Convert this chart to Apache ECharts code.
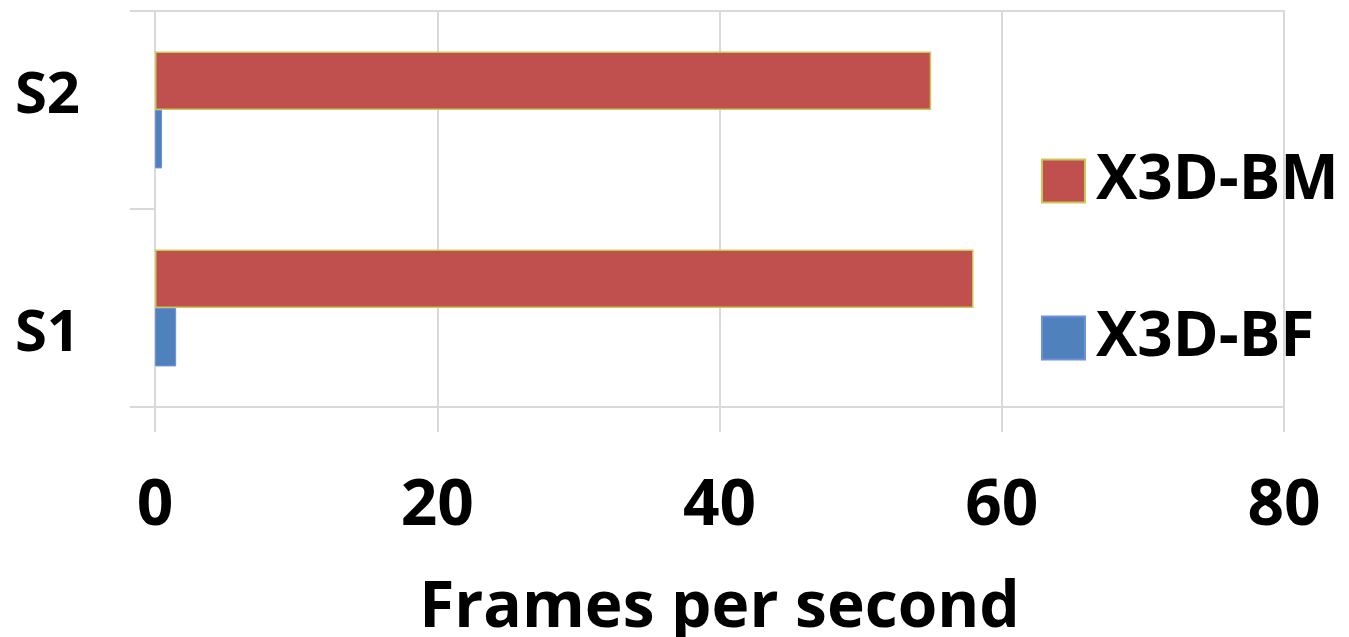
<!DOCTYPE html>
<html>
<head>
<meta charset="utf-8">
<script src="https://cdn.jsdelivr.net/npm/echarts@6/dist/echarts.min.js"></script>
<style>
html,body{margin:0;padding:0;background:#fff;}
#c{width:1349px;height:637px;}
</style>
</head>
<body>
<div id="c"></div>
<script>
const categories = ['S1', 'S2'];
const seriesNames = ['X3D-BM', 'X3D-BF'];
const bmValues = [58, 55];
const bfValues = [1.5, 0.5];
const xTicks = [0, 20, 40, 60, 80];
const xAxisName = 'Frames per second';

const FONT = '"Open Sans", "Liberation Sans", sans-serif';
const GRID = '#d9d9d9';

const chart = echarts.init(document.getElementById('c'), null, {renderer: 'canvas'});
chart.setOption({
  animation: false,
  backgroundColor: '#ffffff',
  grid: {left: 155, right: 65, top: 11, bottom: 230, containLabel: false, outerBoundsMode: 'none'},
  legend: {
    orient: 'vertical',
    left: 1036,
    top: 145,
    icon: 'rect',
    itemWidth: 43,
    itemHeight: 43,
    itemGap: 95,
    data: seriesNames,
    textStyle: {fontFamily: FONT, fontWeight: 'bold', fontSize: 62, color: '#000', padding: [0, 0, 0, 6]}
  },
  xAxis: [{
    type: 'value',
    min: xTicks[0],
    max: xTicks[xTicks.length - 1],
    interval: xTicks[1] - xTicks[0],
    name: xAxisName,
    nameLocation: 'middle',
    nameGap: 170,
    nameTextStyle: {fontFamily: FONT, fontWeight: 'bold', fontSize: 64, color: '#000'},
    axisLine: {show: true, lineStyle: {color: GRID, width: 2}},
    axisTick: {show: true, length: 25, lineStyle: {color: GRID, width: 2}},
    splitLine: {show: true, lineStyle: {color: GRID, width: 2}},
    axisLabel: {fontFamily: FONT, fontWeight: 'bold', fontSize: 64, color: '#000', margin: 68}
  }, {
    type: 'value',
    position: 'top',
    min: xTicks[0],
    max: xTicks[xTicks.length - 1],
    axisLine: {show: true, lineStyle: {color: GRID, width: 2}},
    axisTick: {show: false},
    axisLabel: {show: false},
    splitLine: {show: false}
  }],
  yAxis: {
    type: 'category',
    data: categories,
    axisLine: {show: true, lineStyle: {color: GRID, width: 2}},
    axisTick: {show: true, length: 25, lineStyle: {color: GRID, width: 2}},
    splitLine: {show: false},
    axisLabel: {
      fontFamily: FONT, fontWeight: 'bold', fontSize: 58, color: '#000', margin: 75,
      formatter: function (v) { return v === 'S1' ? '{b|' + v + '}' : '{a|' + v + '}'; },
      rich: {
        a: {fontFamily: FONT, fontWeight: 'bold', fontSize: 58, color: '#000', padding: [0, 0, 28, 0]},
        b: {fontFamily: FONT, fontWeight: 'bold', fontSize: 58, color: '#000', padding: [52, 0, 0, 0]}
      }
    }
  },
  series: [{
    name: seriesNames[0],
    type: 'bar',
    data: bmValues,
    barGap: '0%',
    barCategoryGap: '41%',
    itemStyle: {color: '#c0504d', borderColor: '#c9c857', borderWidth: 1.5}
  }, {
    name: seriesNames[1],
    type: 'bar',
    data: bfValues,
    itemStyle: {color: '#4f81bd', borderColor: '#6f8fe0', borderWidth: 1}
  }]
});
</script>
</body>
</html>
